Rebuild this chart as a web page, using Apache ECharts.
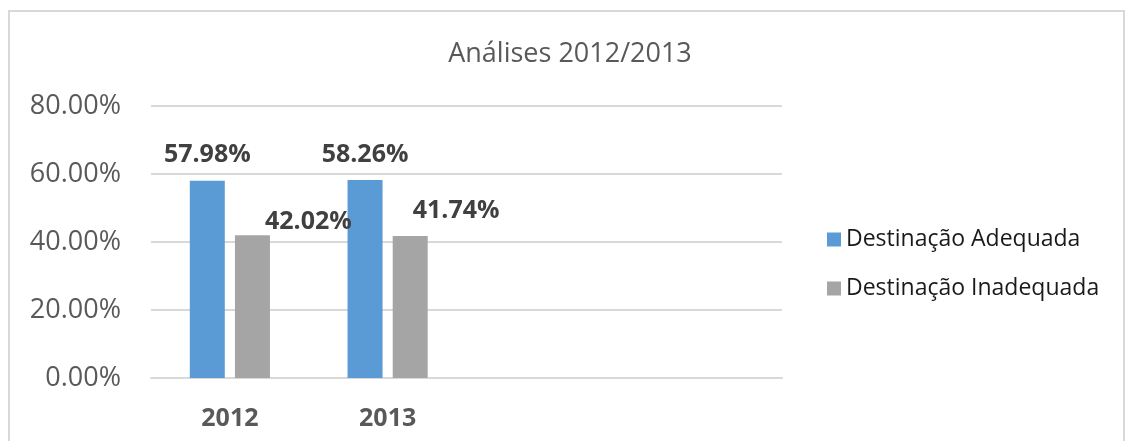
<!DOCTYPE html>
<html>
<head>
<meta charset="utf-8">
<script src="https://cdn.jsdelivr.net/npm/echarts@6/dist/echarts.min.js"></script>
<style>
html,body{margin:0;padding:0;background:#fff;}
#chart{width:1125px;height:441px;}
</style>
</head>
<body>
<div id="chart"></div>
<script>
const categories = ['2012', '2013', '', ''];
const adequada = [57.98, 58.26];
const inadequada = [42.02, 41.74];
const yTicks = [0, 20, 40, 60, 80];

const FONT = '"Open Sans", "Noto Sans", sans-serif';
const chart = echarts.init(document.getElementById('chart'));

const fmtPct = v => v.toFixed(2) + '%';

const grayLabelOffsets = [[56, 12], [46, 0]];

chart.setOption({
  animation: false,
  backgroundColor: '#fff',
  title: {
    text: 'Análises 2012/2013',
    left: 565, top: 36, textAlign: 'center',
    textStyle: { fontFamily: FONT, fontSize: 27, fontWeight: 'normal', color: '#595959' }
  },
  graphic: [{
    type: 'rect', shape: { x: 9, y: 11, width: 1115, height: 440 },
    style: { fill: 'none', stroke: '#d9d9d9', lineWidth: 2 }, silent: true, z: -1
  }],
  legend: {
    orient: 'vertical', left: 822, top: 223, itemGap: 26,
    itemWidth: 14, itemHeight: 14, icon: 'rect',
    textStyle: { fontFamily: FONT, fontSize: 23, color: '#1a1a1a' }
  },
  grid: { left: 151, right: 343, top: 106, bottom: 63 },
  xAxis: {
    type: 'category', data: categories,
    axisLine: { show: true, lineStyle: { color: '#d9d9d9', width: 2 } },
    axisTick: { show: false },
    axisLabel: { fontFamily: FONT, fontSize: 25, fontWeight: 'bold', color: '#595959', margin: 28 }
  },
  yAxis: {
    type: 'value', min: yTicks[0], max: yTicks[yTicks.length - 1], interval: 20,
    axisLine: { show: false }, axisTick: { show: false },
    splitLine: { lineStyle: { color: '#d9d9d9', width: 2 } },
    axisLabel: { fontFamily: FONT, fontSize: 27, color: '#595959', margin: 30, formatter: v => fmtPct(v) }
  },
  series: [
    {
      name: 'Destinação Adequada', type: 'bar', barWidth: 35, barGap: '29%',
      itemStyle: { color: '#5b9bd5' },
      label: { show: true, position: 'top', distance: 13, fontFamily: FONT, fontSize: 25, fontWeight: 'bold', color: '#404040', formatter: p => fmtPct(p.value) },
      data: adequada
    },
    {
      name: 'Destinação Inadequada', type: 'bar', barWidth: 35, barGap: '29%',
      itemStyle: { color: '#a5a5a5' },
      label: { show: true, position: 'top', distance: 13, fontFamily: FONT, fontSize: 25, fontWeight: 'bold', color: '#404040', formatter: p => fmtPct(p.value) },
      data: inadequada.map((v, i) => ({ value: v, label: { offset: grayLabelOffsets[i] } }))
    }
  ]
});
</script>
</body>
</html>
